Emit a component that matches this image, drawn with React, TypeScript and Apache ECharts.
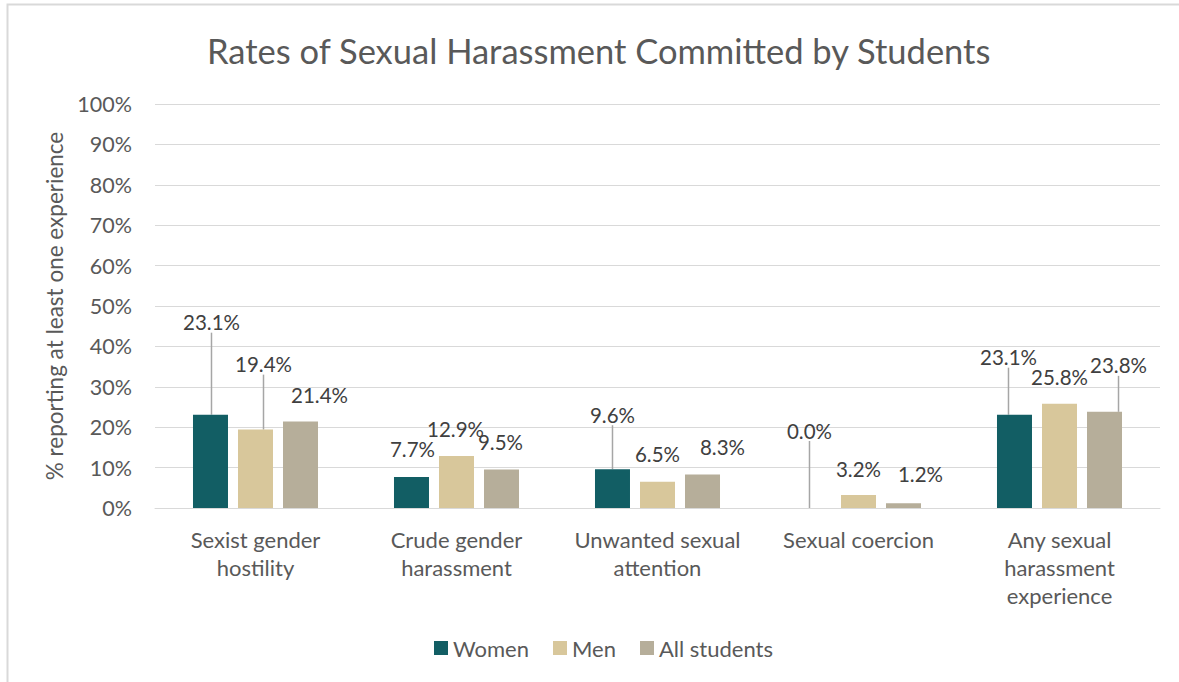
import React, { useEffect, useRef } from "react";
import * as echarts from "echarts";

const categories = [
  "Sexist gender\nhostility",
  "Crude gender\nharassment",
  "Unwanted sexual\nattention",
  "Sexual coercion",
  "Any sexual\nharassment\nexperience",
];
const seriesNames = ["Women", "Men", "All students"];
const women = [23.1, 7.7, 9.6, 0.0, 23.1];
const men = [19.4, 12.9, 6.5, 3.2, 25.8];
const allStudents = [21.4, 9.5, 8.3, 1.2, 23.8];
const yTicks = { min: 0, max: 100, interval: 10 };

// label displacement (styling) and which labels have leader lines
const labelShift = [
  [[1, -77], [1, -12], [0, -39], [-4, -62], [-6, -42]],
  [[8, -50], [-1, -11], [0, -12], [0, -11], [0, -11]],
  [[19, -11], [-1, -12], [20, -12], [17, -14], [14, -31]],
];
const leader = [
  [true, false, true, true, true],
  [true, false, false, false, false],
  [false, false, false, false, true],
];
const colors = ["#125E64", "#D8C79B", "#B6AE9A"];

const FONT = "Lato";

export default function App() {
  const ref = useRef<HTMLDivElement>(null);
  useEffect(() => {
    if (!ref.current) return;
    const chart = echarts.init(ref.current, null, { renderer: "svg" });
    const values = [women, men, allStudents];
    const series = values.map((vals, si) => ({
      name: seriesNames[si],
      type: "bar",
      barWidth: 35,
      barGap: "28.6%",
      itemStyle: { color: colors[si] },
      data: vals.map((v, di) => ({
        value: v,
        labelLine: { show: leader[si][di] },
      })),
      label: {
        show: true,
        position: "top",
        distance: 5,
        fontFamily: FONT,
        fontSize: 20.5,
        color: "#404040",
        formatter: (p: any) => Number(p.value).toFixed(1) + "%",
      },
      labelLine: {
        lineStyle: { color: "#A6A6A6", width: 1.5 },
      },
      labelLayout: (p: any) => ({
        dx: labelShift[si][p.dataIndex][0],
        dy: labelShift[si][p.dataIndex][1],
      }),
    }));
    chart.setOption({
      animation: false,
      backgroundColor: "#ffffff",
      title: {
        text: "Rates of Sexual Harassment Committed by Students",
        left: 202,
        top: 28,
        textStyle: {
          fontFamily: FONT,
          fontSize: 34.5,
          fontWeight: "normal",
          color: "#595959",
        },
      },
      graphic: [
        {
          type: "rect",
          shape: { x: 7.5, y: 4.5, width: 1200, height: 700 },
          style: { fill: "none", stroke: "#D9D9D9", lineWidth: 2 },
          silent: true,
        },
      ],
      legend: {
        data: seriesNames,
        top: 632,
        left: 429,
        icon: "rect",
        itemWidth: 14,
        itemHeight: 14,
        itemGap: 24,
        textStyle: { fontFamily: FONT, fontSize: 22, color: "#595959" },
      },
      grid: { left: 155, right: 19, top: 104, bottom: 174 },
      xAxis: {
        type: "category",
        data: categories,
        axisLine: { show: true, lineStyle: { color: "#D9D9D9", width: 1 } },
        axisTick: { show: false },
        axisLabel: {
          fontFamily: FONT,
          fontSize: 22,
          color: "#595959",
          lineHeight: 28,
          margin: 17,
          interval: 0,
        },
      },
      yAxis: {
        type: "value",
        min: yTicks.min,
        max: yTicks.max,
        interval: yTicks.interval,
        name: "% reporting at least one experience",
        nameLocation: "middle",
        nameRotate: 90,
        nameGap: 86,
        nameTextStyle: { fontFamily: FONT, fontSize: 22.5, color: "#595959" },
        axisLine: { show: false },
        axisTick: { show: false },
        splitLine: { lineStyle: { color: "#D9D9D9", width: 1 } },
        axisLabel: {
          formatter: "{value}%",
          fontFamily: FONT,
          fontSize: 21.5,
          color: "#595959",
          margin: 23,
        },
      },
      series,
    });
    return () => chart.dispose();
  }, []);
  return (
    <div
      ref={ref}
      style={{ position: "absolute", left: 0, top: 0, width: 1179, height: 682 }}
    />
  );
}
